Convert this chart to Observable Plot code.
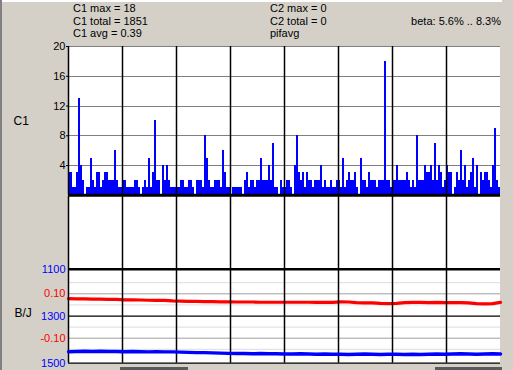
<!DOCTYPE html>
<html><head><meta charset="utf-8">
<script src="https://cdn.jsdelivr.net/npm/d3@7"></script>
<script src="https://cdn.jsdelivr.net/npm/@observablehq/plot@0.6"></script>
<style>
html,body{margin:0;padding:0;background:#d4d0c8;}
#wrap{position:relative;width:513px;height:370px;overflow:hidden;background:#d4d0c8;font-family:"Liberation Sans",Arial,sans-serif;font-size:11px;}
#wrap svg{position:absolute;left:0;top:0;}
.t{position:absolute;white-space:nowrap;line-height:12px;color:#000;}
.d{position:absolute;}
</style></head><body><div id="wrap"></div>
<script>
// ---- data ----
const c1Counts = [
  3,3,1,1,3,13,4,2,0,1,1,5,2,1,3,3,1,2,3,3,2,2,2,6,2,1,1,
  2,2,1,1,1,1,2,2,1,0,1,2,1,5,1,3,10,2,2,0,4,2,4,2,1,1,1,
  1,1,2,2,1,1,2,2,1,0,2,2,2,1,8,5,2,1,1,2,2,2,1,6,3,1,1,
  0,1,1,1,1,1,0,2,3,1,2,2,1,2,2,5,2,2,2,4,2,7,1,1,0,2,1,
  1,2,2,1,0,4,8,3,2,3,1,3,2,2,1,2,2,2,4,1,2,1,1,2,1,1,2,
  2,1,5,1,2,3,2,2,3,1,0,5,2,2,1,3,2,2,2,1,2,2,2,18,2,2,1,
  2,2,4,2,2,2,2,3,2,1,2,1,8,2,2,2,4,3,3,4,2,7,2,4,3,1,2,
  4,3,3,0,1,3,2,6,2,4,1,2,3,5,1,4,0,3,2,3,3,2,1,4,9,2,1
];
const divisions = [27, 54, 81, 108, 135, 162, 189];
const c1Ticks = [4, 8, 12, 16, 20];
const bjTicks = [1100, 1300, 1500];
const betaTicks = [-0.10, 0.10];
const betaMinorTicks = [-0.15, -0.05, 0.05, 0.15];
const bjValues = [
  1451,1450,1449,1450,1449,1450,1450,
  1451,1450,1451,1452,1451,1452,1452,
  1453,1454,1455,1455,1456,1457,1458,
  1459,1459,1460,1459,1460,1460,1461,
  1461,1460,1461,1462,1461,1462,1462,
  1463,1462,1461,1462,1463,1462,
  1462,1463,1462,1463,1462,1461,1462,
  1461,1460,1461,1462,1461,1460,1461
];
const betaValues = [
  0.078,0.077,0.077,0.076,0.076,0.075,0.075,0.073,0.073,0.072,
  0.071,0.070,0.070,0.068,0.067,0.066,0.066,0.065,0.065,0.064,
  0.064,0.063,0.063,0.063,0.062,0.062,0.062,0.062,0.062,0.062,
  0.062,0.061,0.062,0.061,0.064,0.063,0.060,0.059,0.059,0.057,
  0.056,0.057,0.060,0.061,0.061,0.060,0.061,0.060,0.060,0.060,
  0.059,0.056,0.055,0.056,0.061
];
const lineStep = 4; // bins per line sample
const statsLeft = ["C1 max = 18", "C1 total = 1851", "C1 avg = 0.39"];
const statsMid = ["C2 max = 0", "C2 total = 0", "pifavg"];
const statsRight = "beta: 5.6% .. 8.3%";

// ---- build ----
const W = 513, H = 370;
const FONT = "'Liberation Sans', Arial, sans-serif";
const wrap = document.getElementById("wrap");
function div(cls, css, text) {
  const e = document.createElement("div");
  e.className = cls; Object.assign(e.style, css);
  if (text != null) e.textContent = text;
  wrap.appendChild(e); return e;
}
// window chrome
div("d", {left:"0px", top:"0px", width:"2px", height:H+"px", background:"#808080"});
div("d", {left:"2px", top:"0px", width:"500px", height:"2px", background:"#ffffff"});
div("d", {left:"120px", top:"367px", width:"68px", height:"3px", background:"#5a5a5a"});
div("d", {left:"435px", top:"367px", width:"67px", height:"3px", background:"#5a5a5a"});
// white plotting area
div("d", {left:"68px", top:"46px", width:"432px", height:"317px", background:"#ffffff"});

// header text
statsLeft.forEach((s, i) => div("t", {left:"73px", top:(2 + i*12.5)+"px"}, s));
statsMid.forEach((s, i) => div("t", {left:"270px", top:(2 + i*12.5)+"px"}, s));
div("t", {right:(W-501)+"px", top:(2 + 12.5)+"px"}, statsRight);

const xDomain = [0, c1Counts.length];
const bars = c1Counts.map((v, i) => ({t0: i, t1: i + 1, v}));
const bj = bjValues.map((v, i) => ({t: i * lineStep, v}));
const beta = betaValues.map((v, i) => ({t: i * lineStep, v}));
const common = {width: W, marginLeft: 68, marginRight: 13,
  style: {background: "transparent", fontFamily: FONT, fontSize: "11px", overflow: "visible"}};

// upper panel (C1)
const upper = Plot.plot({
  ...common, height: 200, marginTop: 46, marginBottom: 5.2,
  x: {domain: xDomain, axis: null},
  y: {domain: [0, 20], axis: null},
  marks: [
    Plot.ruleY(c1Ticks, {stroke: "#808080", shapeRendering: "crispEdges"}),
    Plot.rectY(bars, {x1: "t0", x2: "t1", y: "v", fill: "#0000ff", inset: 0, shapeRendering: "crispEdges"}),
    Plot.ruleX(divisions, {stroke: "#000", strokeWidth: 1.5}),
    Plot.ruleX([0], {stroke: "#000", strokeWidth: 1.5}),
    Plot.ruleY([0], {stroke: "#000", strokeWidth: 3}),
    Plot.axisY({ticks: c1Ticks, tickSize: 2, tickPadding: 1, tickFormat: d => String(d), label: null, fontSize: 11}),
    Plot.text(["C1"], {frameAnchor: "left", dx: -55, textAnchor: "start", fontSize: 12})
  ]
});

// lower panel, beta (red) layer
const lowerRed = Plot.plot({
  ...common, height: H, marginTop: 268.7, marginBottom: 7.3,
  x: {domain: xDomain, axis: null},
  y: {domain: [-0.2126, 0.2108], axis: null},
  marks: [
    Plot.ruleY(betaMinorTicks, {stroke: "#dcdcdc"}),
    Plot.ruleY(betaTicks, {stroke: "#a0a0a0"}),
    Plot.line(beta, {x: "t", y: "v", stroke: "#ff0000", strokeWidth: 3.2}),
    Plot.axisY({ticks: betaTicks, tickSize: 0, tickPadding: 3, color: "#ff0000", tickFormat: d => d.toFixed(2), label: null, fontSize: 11})
  ]
});

// lower panel, B/J (blue) layer
const lowerBlue = Plot.plot({
  ...common, height: H, marginTop: 196, marginBottom: 7.3,
  x: {domain: xDomain, axis: null},
  y: {domain: [791, 1500], reverse: true, axis: null},
  marks: [
    Plot.ruleY([bjTicks[0]], {stroke: "#000", strokeWidth: 2.5}),
    Plot.ruleY(bjTicks.slice(1), {stroke: "#000", strokeWidth: 1.2}),
    Plot.ruleX(divisions, {stroke: "#000", strokeWidth: 1.5}),
    Plot.ruleX([0], {stroke: "#000", strokeWidth: 1.5}),
    Plot.line(bj, {x: "t", y: "v", stroke: "#0000ff", strokeWidth: 3.4}),
    Plot.axisY({ticks: bjTicks, tickSize: 0, tickPadding: 3, color: "#0000ff", tickFormat: d => String(d), label: null, fontSize: 11}),
    Plot.text(["B/J"], {x: 0, y: bjTicks[1], dx: -54, dy: -3, textAnchor: "start", fontSize: 12, fill: "#000"})
  ]
});

wrap.appendChild(upper);
wrap.appendChild(lowerRed);
wrap.appendChild(lowerBlue);
</script>
</body></html>
